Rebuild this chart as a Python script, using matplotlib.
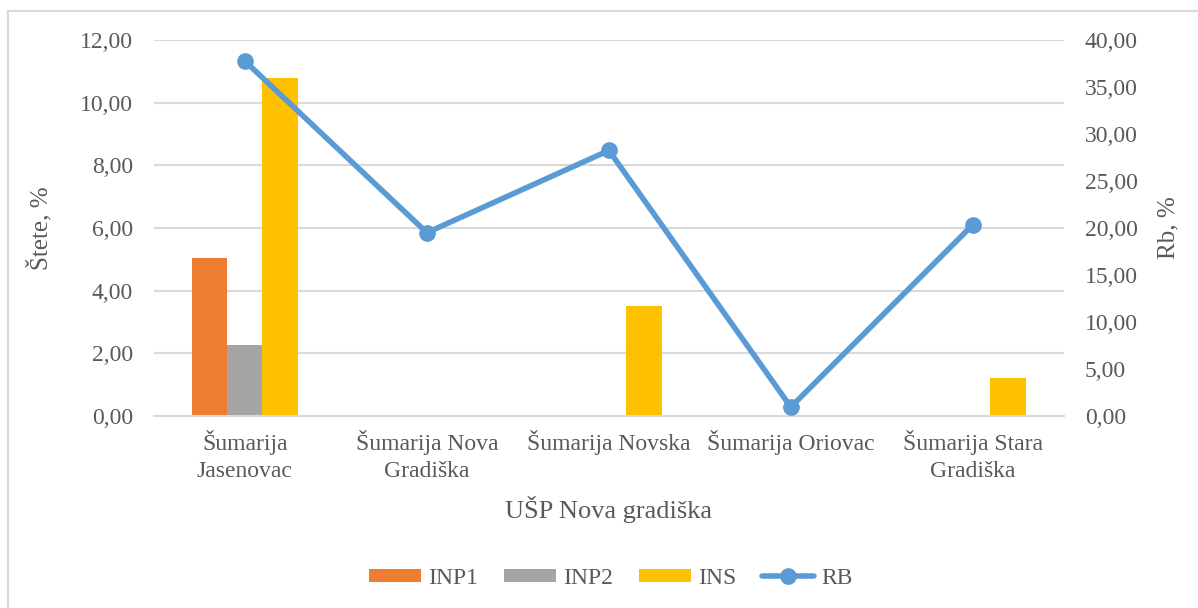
import numpy as np
import matplotlib.pyplot as plt
from matplotlib.ticker import FuncFormatter
from matplotlib.lines import Line2D

plt.rcParams['font.family'] = ['Liberation Serif', 'DejaVu Serif']

categories = ['Šumarija\nJasenovac', 'Šumarija Nova\nGradiška', 'Šumarija Novska',
              'Šumarija Oriovac', 'Šumarija Stara\nGradiška']
inp1 = [5.05, 0, 0, 0, 0]
inp2 = [2.28, 0, 0, 0, 0]
ins = [10.80, 0, 3.50, 0, 1.20]
rb = [37.75, 19.50, 28.25, 0.95, 20.35]

bar_colors = ['#ED7D31', '#A5A5A5', '#FFC000']
line_color = '#5B9BD5'
text_color = '#595959'
grid_color = '#D9D9D9'

comma = FuncFormatter(lambda v, p: f'{v:.2f}'.replace('.', ','))

fig = plt.figure(figsize=(11.98, 6.08), dpi=100)
# chart frame: top and left edges only
fig.lines.append(Line2D([0.007, 1.0], [0.982, 0.982], transform=fig.transFigure,
                        color=grid_color, linewidth=1.5))
fig.lines.append(Line2D([0.007, 0.007], [0.0, 0.982], transform=fig.transFigure,
                        color=grid_color, linewidth=1.5))

ax = fig.add_axes([0.1285, 0.3158, 0.7595, 0.6184])
ax2 = ax.twinx()

x = np.arange(len(categories))
w = 0.193
for i, (vals, lab) in enumerate(zip([inp1, inp2, ins], ['INP1', 'INP2', 'INS'])):
    ax.bar(x + (i - 1) * w, vals, width=w, color=bar_colors[i], label=lab, zorder=2)

ax2.plot(x, rb, color=line_color, linewidth=4, marker='o', markersize=11,
         solid_capstyle='round', label='RB', zorder=3)

ax.set_xlim(-0.5, len(categories) - 0.5)
ax.set_ylim(0, 12)
ax.set_yticks(np.arange(0, 12.1, 2))
ax2.set_ylim(0, 40)
ax2.set_yticks(np.arange(0, 40.1, 5))
ax.yaxis.set_major_formatter(comma)
ax2.yaxis.set_major_formatter(comma)

ax.set_xticks(x)
ax.set_xticklabels(categories, linespacing=1.4)
ax.grid(axis='y', color=grid_color, linewidth=1.5, zorder=0)
ax.set_axisbelow(True)

for a in (ax, ax2):
    for s in a.spines.values():
        s.set_visible(False)
    a.tick_params(length=0, labelsize=17, labelcolor=text_color)
ax.spines['bottom'].set_visible(True)
ax.spines['bottom'].set_color(grid_color)
ax.spines['bottom'].set_linewidth(1.5)
ax.tick_params(axis='x', pad=10)
ax.tick_params(axis='y', pad=15)
ax2.tick_params(axis='y', pad=15)

ax.set_ylabel('Štete, %', fontsize=18, color=text_color, labelpad=20)
ax2.set_ylabel('Rb, %', fontsize=18, color=text_color, labelpad=14)
ax.set_xlabel('UŠP Nova gradiška', fontsize=19, color=text_color, labelpad=10)

h1, l1 = ax.get_legend_handles_labels()
h2, l2 = ax2.get_legend_handles_labels()
fig.legend(h1 + h2, l1 + l2, loc='center', bbox_to_anchor=(0.51, 0.049), ncol=4,
           frameon=False, fontsize=17, labelcolor=text_color, handlelength=2.2,
           handleheight=0.45, handletextpad=0.3, columnspacing=1.1)

fig.savefig('out.png', dpi=100)
